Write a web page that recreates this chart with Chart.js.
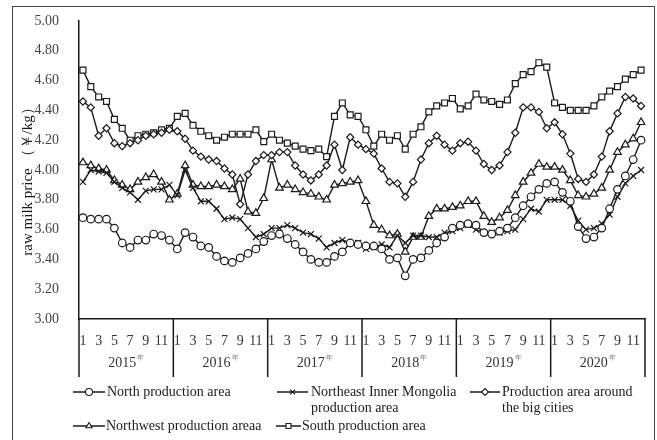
<!DOCTYPE html>
<html>
<head>
<meta charset="utf-8">
<script src="https://cdn.jsdelivr.net/npm/chart.js@4.4.0/dist/chart.umd.min.js"></script>
<style>
  html, body { margin: 0; padding: 0; background: #fff; }
  #wrap { width: 657px; height: 440px; }
</style>
</head>
<body>
<div id="wrap"><canvas id="myChart" width="657" height="440"></canvas></div>
<script>
// monthly raw milk price, 2015-2020
const years = ["2015", "2016", "2017", "2018", "2019", "2020"];
const monthNums = [1, 2, 3, 4, 5, 6, 7, 8, 9, 10, 11, 12];
const yTicks = [3.0, 3.2, 3.4, 3.6, 3.8, 4.0, 4.2, 4.4, 4.6, 4.8, 5.0];

const north = [
  3.68, 3.67, 3.67, 3.67, 3.61, 3.51, 3.48, 3.53, 3.53, 3.57, 3.56, 3.53,
  3.47, 3.58, 3.55, 3.49, 3.48, 3.42, 3.39, 3.38, 3.41, 3.44, 3.47, 3.52,
  3.56, 3.57, 3.54, 3.50, 3.45, 3.40, 3.38, 3.38, 3.42, 3.45, 3.51, 3.50,
  3.49, 3.49, 3.47, 3.40, 3.41, 3.29, 3.40, 3.41, 3.46, 3.51, 3.55, 3.61,
  3.63, 3.64, 3.63, 3.58, 3.57, 3.59, 3.61, 3.68, 3.76, 3.82, 3.87, 3.91,
  3.92, 3.85, 3.79, 3.62, 3.54, 3.55, 3.61, 3.74, 3.87, 3.96, 4.07, 4.20
];
const northeast = [
  3.92, 4.00, 3.99, 3.98, 3.92, 3.88, 3.85, 3.80, 3.86, 3.87, 3.87, 3.90,
  3.83, 4.00, 3.88, 3.79, 3.79, 3.74, 3.67, 3.68, 3.67, 3.61, 3.55, 3.57,
  3.61, 3.61, 3.63, 3.61, 3.58, 3.57, 3.54, 3.48, 3.51, 3.53, 3.51, 3.51,
  3.47, 3.48, 3.50, 3.48, 3.56, 3.51, 3.56, 3.56, 3.55, 3.55, 3.58, 3.59,
  3.61, 3.63, 3.60, 3.58, 3.58, 3.58, 3.59, 3.60, 3.67, 3.74, 3.72, 3.80,
  3.80, 3.80, 3.76, 3.66, 3.60, 3.61, 3.64, 3.70, 3.82, 3.91, 3.96, 4.00
];
const bigCities = [
  4.46, 4.42, 4.23, 4.28, 4.18, 4.16, 4.18, 4.20, 4.23, 4.24, 4.25, 4.27,
  4.26, 4.21, 4.13, 4.09, 4.07, 4.06, 4.01, 3.97, 3.77, 3.97, 4.06, 4.10,
  4.10, 4.12, 4.12, 4.03, 3.97, 3.93, 3.97, 4.03, 4.17, 4.00, 4.22, 4.17,
  4.14, 4.11, 4.01, 3.92, 3.91, 3.82, 3.92, 4.07, 4.18, 4.23, 4.17, 4.13,
  4.18, 4.19, 4.13, 4.04, 4.00, 4.03, 4.12, 4.25, 4.42, 4.42, 4.39, 4.28,
  4.32, 4.24, 4.11, 3.94, 3.92, 3.97, 4.09, 4.26, 4.38, 4.49, 4.48, 4.43
];
const northwest = [
  4.05, 4.03, 4.01, 4.00, 3.93, 3.90, 3.87, 3.92, 3.95, 3.97, 3.92, 3.80,
  3.84, 4.03, 3.90, 3.89, 3.89, 3.90, 3.89, 3.87, 3.94, 3.72, 3.71, 3.81,
  4.07, 3.88, 3.90, 3.87, 3.85, 3.84, 3.82, 3.80, 3.90, 3.91, 3.92, 3.93,
  3.79, 3.63, 3.60, 3.56, 3.57, 3.45, 3.55, 3.55, 3.69, 3.74, 3.74, 3.75,
  3.76, 3.79, 3.79, 3.69, 3.65, 3.68, 3.73, 3.83, 3.92, 3.98, 4.04, 4.02,
  4.02, 4.00, 3.93, 3.83, 3.82, 3.84, 3.88, 4.00, 4.12, 4.17, 4.21, 4.32
];
const south = [
  4.67, 4.56, 4.49, 4.46, 4.34, 4.28, 4.20, 4.23, 4.24, 4.25, 4.27, 4.28,
  4.36, 4.38, 4.30, 4.26, 4.23, 4.20, 4.22, 4.24, 4.24, 4.24, 4.27, 4.19,
  4.24, 4.20, 4.18, 4.16, 4.14, 4.13, 4.14, 4.09, 4.36, 4.45, 4.37, 4.36,
  4.27, 4.16, 4.24, 4.20, 4.23, 4.14, 4.24, 4.29, 4.39, 4.43, 4.45, 4.48,
  4.41, 4.43, 4.51, 4.47, 4.46, 4.44, 4.47, 4.58, 4.64, 4.66, 4.72, 4.69,
  4.45, 4.42, 4.40, 4.40, 4.40, 4.43, 4.49, 4.53, 4.56, 4.61, 4.64, 4.67
];

const seriesNames = [
  ["North production area"],
  ["Northeast Inner Mongolia", "production area"],
  ["Production area around", "the big cities"],
  ["Northwest production areaa"],
  ["South production area"]
];
const seriesStyles = ["circle", "crossRot", "rectRot", "triangle", "rect"];
const seriesRadius = [3.8, 4.2, 3.6, 4.4, 4.2];
const seriesData = [north, northeast, bigCities, northwest, south];

const labels = [];
years.forEach(y => monthNums.forEach(m => labels.push(m)));

const SERIF = '"Liberation Serif", "Times New Roman", serif';
const INK = "#1a1a1a";

// legend entries: [lineStart, lineEnd, rowY, textX]
const legendPos = [
  [73, 105, 392, 107],
  [277, 308, 392, 311],
  [470, 500, 392, 502],
  [73, 105, 426, 106],
  [276, 301, 426, 302]
];

const decor = {
  id: "decor",
  afterDraw(chart) {
    const { ctx, chartArea, scales } = chart;
    const x = scales.x;
    ctx.save();

    // outer frame
    ctx.strokeStyle = "#444";
    ctx.lineWidth = 1;
    ctx.strokeRect(12.5, 6.5, 642, 440);

    // year separators and year labels
    ctx.strokeStyle = INK;
    ctx.lineWidth = 1.5;
    const bounds = [];
    for (let k = 0; k <= years.length; k++) {
      let px;
      if (k === 0) px = chartArea.left;
      else if (k === years.length) px = chartArea.right;
      else px = (x.getPixelForValue(k * 12 - 1) + x.getPixelForValue(k * 12)) / 2;
      bounds.push(px);
      ctx.beginPath();
      ctx.moveTo(px, chartArea.bottom);
      ctx.lineTo(px, 377);
      ctx.stroke();
    }
    ctx.textBaseline = "middle";
    for (let k = 0; k < years.length; k++) {
      const cx = (bounds[k] + bounds[k + 1]) / 2;
      ctx.font = "14px " + SERIF;
      const w1 = ctx.measureText(years[k]).width;
      ctx.font = "7px " + SERIF;
      const w2 = ctx.measureText("年").width;
      const start = cx - (w1 + w2 + 1) / 2;
      ctx.fillStyle = "#333";
      ctx.font = "14px " + SERIF;
      ctx.textAlign = "left";
      ctx.fillText(years[k], start, 363);
      ctx.fillStyle = "#777";
      ctx.font = "7px " + SERIF;
      ctx.fillText("年", start + w1 + 1, 358);
    }

    // y axis title
    ctx.save();
    ctx.translate(28, 178);
    ctx.rotate(-Math.PI / 2);
    ctx.textAlign = "center";
    ctx.fillStyle = INK;
    ctx.font = "15px " + SERIF;
    ctx.fillText("raw milk price （￥/kg）", 0, 0);
    ctx.restore();

    // legend
    ctx.font = "14px " + SERIF;
    ctx.textAlign = "left";
    legendPos.forEach((p, i) => {
      ctx.strokeStyle = INK;
      ctx.lineWidth = 1.5;
      ctx.beginPath();
      ctx.moveTo(p[0], p[2]);
      ctx.lineTo(p[1], p[2]);
      ctx.stroke();
      ctx.fillStyle = "#fff";
      ctx.lineWidth = 1.1;
      Chart.helpers.drawPoint(ctx, {
        pointStyle: seriesStyles[i],
        radius: 3.5,
        rotation: 0,
        borderWidth: 1.1
      }, (p[0] + p[1]) / 2, p[2]);
      ctx.fillStyle = INK;
      seriesNames[i].forEach((line, j) => {
        ctx.fillText(line, p[3], p[2] + j * 16);
      });
    });

    ctx.restore();
  }
};

const datasets = seriesData.map((d, i) => ({
  label: seriesNames[i].join(" "),
  data: d,
  borderColor: INK,
  borderWidth: 1.4,
  backgroundColor: "#fff",
  pointStyle: seriesStyles[i],
  pointRadius: seriesRadius[i],
  pointBorderWidth: 1.2,
  pointBorderColor: INK,
  pointBackgroundColor: "#fff",
  tension: 0,
  fill: false
}));

const ctx = document.getElementById("myChart").getContext("2d");

new Chart(ctx, {
  type: "line",
  data: { labels: labels, datasets: datasets },
  options: {
    responsive: false,
    animation: false,
    devicePixelRatio: 1,
    layout: { padding: { left: 0, right: 12, top: 21, bottom: 0 } },
    plugins: {
      legend: { display: false },
      tooltip: { enabled: false }
    },
    scales: {
      x: {
        type: "category",
        offset: true,
        grid: { display: false },
        border: { display: true, color: INK, width: 1.5 },
        ticks: {
          autoSkip: false,
          maxRotation: 0,
          minRotation: 0,
          padding: 6,
          color: "#333",
          font: { family: SERIF, size: 14 },
          callback: function (val, idx) {
            return idx % 2 === 0 ? String(labels[idx]) : "";
          }
        },
        afterFit: function (scale) { scale.height = 121; }
      },
      y: {
        min: yTicks[0],
        max: yTicks[yTicks.length - 1],
        grid: { display: false },
        border: { display: true, color: INK, width: 1.5 },
        afterBuildTicks: function (scale) {
          scale.ticks = yTicks.map(v => ({ value: v }));
        },
        ticks: {
          padding: 12,
          color: "#444",
          font: { family: SERIF, size: 14 },
          callback: v => Number(v).toFixed(2)
        },
        afterFit: function (scale) { scale.width = 79; }
      }
    }
  },
  plugins: [decor]
});
</script>
</body>
</html>
